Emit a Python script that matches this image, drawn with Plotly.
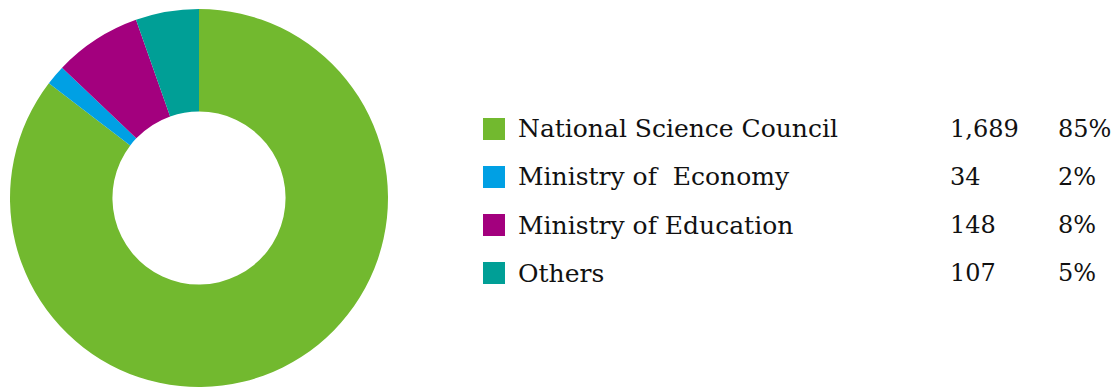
import plotly.graph_objects as go

# Funding sources
labels = ["National Science Council", "Ministry of  Economy", "Ministry of Education", "Others"]
values = [1689, 34, 148, 107]
percent_labels = ["85%", "2%", "8%", "5%"]
colors = ["#72B92F", "#00A0E4", "#A3007E", "#009F96"]

W, H = 1112, 387
FONT = "DejaVu Serif"

fig = go.Figure()

fig.add_trace(go.Pie(
    labels=labels,
    values=values,
    hole=0.458,
    sort=False,
    direction="clockwise",
    rotation=0,
    marker=dict(colors=colors, line=dict(width=0)),
    textinfo="none",
    hoverinfo="label+value+percent",
    showlegend=False,
    domain=dict(x=[10 / W, 388 / W], y=[0, 378 / H]),
))

# Custom legend table: swatch, name, value, share
row_top = 129
row_step = 48
shapes = []
annotations = []
for i, (name, val, pct, col) in enumerate(zip(labels, values, percent_labels, colors)):
    yc = row_top + i * row_step
    yp = 1 - yc / H
    shapes.append(dict(
        type="rect", xref="paper", yref="paper",
        x0=483 / W, x1=505 / W,
        y0=1 - (yc + 11) / H, y1=1 - (yc - 11) / H,
        fillcolor=col, line=dict(width=0),
    ))
    for x, txt, size in ((516, name, 25), (948, f"{val:,}", 24), (1056, pct, 24)):
        annotations.append(dict(
            x=x / W, y=yp, xref="paper", yref="paper",
            xanchor="left", yanchor="middle",
            text=txt, showarrow=False,
            font=dict(family=FONT, size=size, color="#111111"),
        ))

fig.update_layout(
    width=W, height=H,
    margin=dict(l=0, r=0, t=0, b=0),
    paper_bgcolor="white",
    plot_bgcolor="white",
    shapes=shapes,
    annotations=annotations,
)

fig.write_html("out.html")
